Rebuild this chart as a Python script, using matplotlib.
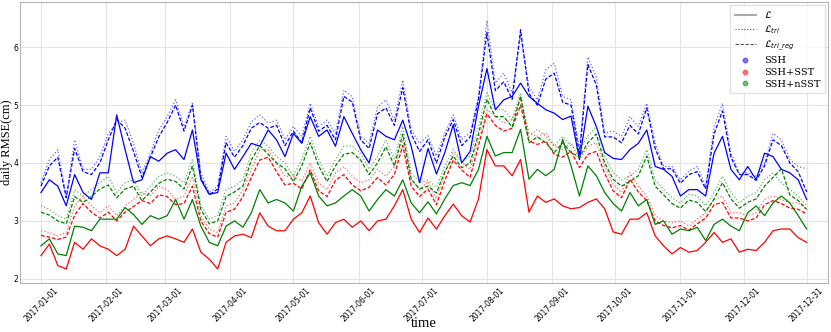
import matplotlib
matplotlib.use('Agg')
import matplotlib.pyplot as plt
import matplotlib.dates as mdates
from matplotlib.lines import Line2D
import pandas as pd

dates = pd.date_range('2017-01-01', '2017-12-31', freq='4D')

ssh_L = [3.49, 3.71, 3.6, 3.26, 3.8, 3.49, 3.37, 3.83, 3.83, 4.83, 4.23, 3.66, 3.71, 4.11, 4.03, 4.17, 4.23, 4.06, 4.57, 3.71, 3.46, 3.49, 4.17, 3.89,
         4.11, 4.34, 4.29, 4.57, 4.4, 4.11, 4.51, 4.34, 4.8, 4.46, 4.57, 4.29, 4.8, 4.51, 4.23, 4.0, 4.57, 4.46, 4.4, 4.74, 4.29, 3.66, 4.25,
         3.81, 4.18, 4.66, 4.0, 4.2, 4.98, 5.63, 4.92, 5.09, 5.15, 5.38, 5.15, 5.03, 4.92, 4.86, 4.75, 4.81, 4.06, 4.98, 4.63, 4.18, 4.08,
         4.06, 4.23, 4.34, 4.57, 3.94, 3.89, 3.77, 3.43, 3.54, 3.54, 3.43, 4.17, 4.46, 3.89, 3.71, 3.94, 3.71, 4.17, 4.11, 3.89, 3.83, 3.71, 3.37]
ssh_tri = [3.66, 4.06, 4.23, 3.43, 4.4, 3.89, 3.89, 4.11, 4.51, 4.69, 4.74, 4.34, 3.83, 4.17, 4.57, 4.8, 5.09, 4.63, 5.03, 3.83, 3.49, 3.6, 4.46, 4.2,
           4.4, 4.71, 4.83, 4.69, 4.74, 4.4, 4.63, 4.46, 5.03, 4.63, 4.74, 4.51, 5.26, 5.14, 4.46, 4.34, 4.97, 5.09, 4.74, 5.43, 4.57, 4.34, 4.47,
           4.12, 4.52, 4.83, 4.41, 4.52, 5.15, 6.46, 5.38, 5.55, 5.21, 6.2, 5.32, 5.09, 5.61, 5.72, 5.15, 5.09, 4.23, 5.83, 5.49, 4.52, 4.55,
           4.46, 4.8, 4.63, 5.03, 4.34, 3.94, 3.94, 3.71, 3.86, 3.94, 3.6, 4.63, 5.03, 4.17, 3.83, 3.83, 3.77, 4.0, 4.51, 4.4, 4.06, 3.94, 3.9]
ssh_tri_reg = [3.6, 3.95, 4.1, 3.4, 4.25, 3.85, 3.8, 4.0, 4.4, 4.75, 4.6, 4.2, 3.75, 4.1, 4.45, 4.7, 5.0, 4.55, 5.0, 3.75, 3.45, 3.55, 4.35, 4.1,
               4.3, 4.6, 4.7, 4.6, 4.65, 4.3, 4.55, 4.35, 4.95, 4.55, 4.65, 4.4, 5.15, 5.05, 4.4, 4.25, 4.85, 4.95, 4.65, 5.3, 4.5, 4.2, 4.4,
               4.0, 4.45, 4.75, 4.3, 4.45, 5.1, 6.25, 5.25, 5.4, 5.1, 6.3, 5.2, 5.0, 5.45, 5.55, 5.05, 5.0, 4.15, 5.7, 5.35, 4.45, 4.45,
               4.35, 4.65, 4.5, 4.95, 4.25, 3.9, 3.9, 3.65, 3.8, 3.85, 3.55, 4.5, 4.9, 4.1, 3.8, 3.8, 3.7, 3.95, 4.4, 4.3, 4.0, 3.85, 3.5]

sst_L = [2.4, 2.6, 2.23, 2.17, 2.63, 2.51, 2.69, 2.57, 2.51, 2.4, 2.51, 2.91, 2.74, 2.57, 2.69, 2.74, 2.69, 2.63, 2.86, 2.46, 2.34, 2.17, 2.63, 2.74,
         2.77, 2.71, 3.14, 2.91, 2.83, 2.83, 3.03, 3.14, 3.43, 2.97, 2.77, 2.97, 3.03, 2.89, 3.0, 2.83, 3.0, 3.03, 3.26, 3.54, 3.03, 2.8, 3.05,
         2.86, 3.09, 3.29, 3.09, 2.98, 3.38, 4.23, 3.95, 3.95, 3.78, 4.06, 3.15, 3.43, 3.32, 3.38, 3.26, 3.21, 3.23, 3.32, 3.38, 3.21, 2.81,
         2.77, 3.03, 3.03, 3.14, 2.74, 2.57, 2.43, 2.54, 2.46, 2.49, 2.63, 2.8, 2.63, 2.69, 2.46, 2.51, 2.49, 2.63, 2.83, 2.86, 2.86, 2.71, 2.63]
sst_tri = [2.83, 2.8, 2.74, 2.8, 3.26, 3.43, 3.26, 3.14, 3.26, 3.09, 3.26, 3.37, 3.49, 3.43, 3.6, 3.54, 3.37, 3.43, 3.77, 3.09, 2.86, 2.8, 3.26, 3.31,
           3.54, 3.89, 4.23, 4.23, 4.0, 3.77, 3.77, 3.69, 4.0, 3.66, 3.54, 3.83, 3.94, 3.77, 3.66, 3.71, 3.89, 3.77, 3.94, 4.4, 3.71, 3.54, 3.68,
           3.38, 3.83, 4.18, 4.01, 3.89, 4.41, 4.92, 4.81, 4.69, 4.75, 5.09, 4.52, 4.46, 4.52, 4.29, 4.23, 4.35, 4.06, 4.29, 4.35, 3.95, 3.63,
           3.49, 3.83, 3.6, 3.43, 3.09, 3.0, 2.97, 3.0, 2.91, 3.03, 3.14, 3.37, 3.43, 3.14, 3.14, 3.09, 3.14, 3.37, 3.43, 3.37, 3.31, 3.31, 3.2]
sst_tri_reg = [2.75, 2.72, 2.68, 2.72, 3.1, 3.3, 3.15, 3.05, 3.15, 3.0, 3.15, 3.25, 3.35, 3.3, 3.45, 3.42, 3.28, 3.3, 3.6, 3.0, 2.78, 2.72, 3.15, 3.2,
               3.42, 3.75, 4.05, 4.1, 3.85, 3.62, 3.65, 3.55, 3.88, 3.52, 3.42, 3.7, 3.8, 3.62, 3.52, 3.58, 3.75, 3.62, 3.8, 4.3, 3.6, 3.42, 3.55,
               3.28, 3.7, 4.05, 3.88, 3.75, 4.3, 4.85, 4.65, 4.55, 4.6, 5.0, 4.38, 4.32, 4.38, 4.15, 4.1, 4.2, 3.92, 4.15, 4.2, 3.82, 3.52,
               3.4, 3.72, 3.5, 3.35, 3.0, 2.92, 2.88, 2.92, 2.84, 2.95, 3.05, 3.28, 3.32, 3.05, 3.05, 3.0, 3.05, 3.28, 3.35, 3.3, 3.22, 3.2, 3.12]

nsst_L = [2.57, 2.69, 2.43, 2.4, 2.91, 2.89, 2.83, 3.03, 3.03, 3.03, 3.23, 3.11, 2.94, 3.09, 3.03, 3.09, 3.37, 3.03, 3.37, 2.91, 2.63, 2.57, 2.91, 3.0,
          2.89, 3.14, 3.54, 3.31, 3.37, 3.31, 3.17, 3.6, 3.83, 3.43, 3.26, 3.31, 3.43, 3.54, 3.43, 3.17, 3.37, 3.54, 3.43, 3.71, 3.31, 3.14, 3.33,
          3.12, 3.38, 3.61, 3.66, 3.61, 3.89, 4.46, 4.12, 4.18, 4.18, 4.58, 3.72, 3.89, 3.78, 3.89, 4.41, 3.95, 3.43, 3.95, 3.78, 3.49, 3.3,
          3.17, 3.49, 3.26, 3.37, 2.94, 3.0, 2.77, 2.86, 2.83, 2.89, 2.66, 2.94, 3.03, 2.91, 2.83, 3.14, 3.26, 3.09, 3.31, 3.43, 3.31, 3.09, 2.86]
nsst_tri = [3.26, 3.2, 3.09, 3.03, 3.54, 3.43, 3.54, 3.66, 3.77, 3.49, 3.66, 3.71, 3.43, 3.6, 3.77, 3.83, 3.77, 3.66, 4.06, 3.26, 3.03, 3.09, 3.54, 3.6,
            3.71, 4.17, 4.4, 4.29, 4.11, 4.0, 3.77, 4.06, 4.46, 4.06, 3.77, 4.06, 4.29, 4.29, 4.17, 3.89, 4.11, 4.4, 4.06, 4.63, 3.83, 3.66, 3.7,
            3.58, 3.95, 4.23, 4.03, 4.12, 4.63, 5.21, 4.92, 4.92, 4.75, 5.21, 4.46, 4.58, 4.46, 4.29, 4.46, 4.29, 4.23, 4.46, 4.63, 4.12, 3.83,
            3.71, 3.77, 3.89, 4.23, 3.71, 3.54, 3.4, 3.31, 3.46, 3.43, 3.26, 3.49, 3.77, 3.49, 3.31, 3.43, 3.49, 3.71, 3.83, 3.66, 3.54, 3.43, 3.26]
nsst_tri_reg = [3.15, 3.1, 3.0, 2.95, 3.42, 3.32, 3.42, 3.55, 3.62, 3.4, 3.55, 3.6, 3.35, 3.5, 3.65, 3.72, 3.68, 3.55, 3.95, 3.2, 2.95, 3.0, 3.42, 3.5,
                3.6, 4.05, 4.3, 4.15, 4.0, 3.9, 3.68, 3.95, 4.35, 3.95, 3.68, 3.95, 4.15, 4.18, 4.05, 3.8, 4.0, 4.28, 3.95, 4.5, 3.72, 3.55, 3.6,
                3.48, 3.85, 4.12, 3.92, 4.0, 4.5, 5.1, 4.8, 4.8, 4.62, 5.15, 4.35, 4.45, 4.35, 4.18, 4.35, 4.18, 4.1, 4.35, 4.5, 4.0, 3.72,
                3.6, 3.68, 3.78, 4.12, 3.6, 3.45, 3.3, 3.22, 3.36, 3.32, 3.16, 3.38, 3.66, 3.38, 3.22, 3.32, 3.38, 3.6, 3.75, 3.9, 3.45, 3.35, 3.2]

tick_dates = ['2017-01-01', '2017-02-01', '2017-03-01', '2017-04-01', '2017-05-01', '2017-06-01',
              '2017-07-01', '2017-08-01', '2017-09-01', '2017-10-01', '2017-11-01', '2017-12-01', '2017-12-31']

plt.rcParams['font.family'] = 'Liberation Serif'

fig = plt.figure(figsize=(8.31, 3.32), dpi=100)
ax = fig.add_axes([0.024, 0.148, 0.972, 0.846])

groups = [('blue', ssh_L, ssh_tri, ssh_tri_reg),
          ('red', sst_L, sst_tri, sst_tri_reg),
          ('green', nsst_L, nsst_tri, nsst_tri_reg)]
for color, l, tri, tri_reg in groups:
    ax.plot(dates, l, color=color, lw=0.9, ls='-')
    ax.plot(dates, tri, color=color, lw=0.9, ls=':', alpha=0.6)
    ax.plot(dates, tri_reg, color=color, lw=0.9, ls='--', dashes=(3, 1.5))

ax.set_xlim(pd.Timestamp('2016-12-22'), pd.Timestamp('2018-01-10'))
ax.set_ylim(1.93, 6.78)
ax.set_xticks(pd.to_datetime(tick_dates))
ax.xaxis.set_major_formatter(mdates.DateFormatter('%Y-%m-%d'))
ax.set_yticks([2, 3, 4, 5, 6])
for lab in ax.get_xticklabels():
    lab.set_rotation(45)
    lab.set_family('DejaVu Sans')
    lab.set_fontsize(5.5)
for lab in ax.get_yticklabels():
    lab.set_family('DejaVu Sans')
    lab.set_fontsize(5.5)
ax.tick_params(axis='x', length=0, pad=2)
ax.tick_params(axis='y', length=0, pad=1.2)
ax.grid(True, color='#e3e3e3', lw=0.8)
ax.set_axisbelow(True)
for s in ax.spines.values():
    s.set_color('#b5b5b5')
    s.set_linewidth(0.8)

ax.set_xlabel('time', fontsize=10.5)
ax.set_ylabel('daily RMSE(cm)', fontsize=9)
ax.xaxis.set_label_coords(0.5, -0.12)
ax.yaxis.set_label_coords(-0.0085, 0.5)

handles = [Line2D([], [], color='#aaaaaa', ls='-', lw=1.5),
           Line2D([], [], color='#555555', ls=':', lw=0.8),
           Line2D([], [], color='#555555', ls='--', lw=0.8, dashes=(3, 1.5)),
           Line2D([], [], color='blue', marker='o', ls='', ms=3.2, alpha=0.5),
           Line2D([], [], color='red', marker='o', ls='', ms=3.2, alpha=0.5),
           Line2D([], [], color='green', marker='o', ls='', ms=3.2, alpha=0.5)]
labels = [r'$\mathcal{L}$', r'$\mathcal{L}_{tri}$', r'$\mathcal{L}_{tri\_reg}$', 'SSH', 'SSH+SST', 'SSH+nSST']
ax.legend(handles, labels, loc='upper right', prop={'family': 'DejaVu Serif', 'size': 7},
          fancybox=False, edgecolor='#dddddd', borderpad=0.45, labelspacing=0.3,
          handlelength=2.2, borderaxespad=0.3)

fig.savefig('out.png', dpi=100)
